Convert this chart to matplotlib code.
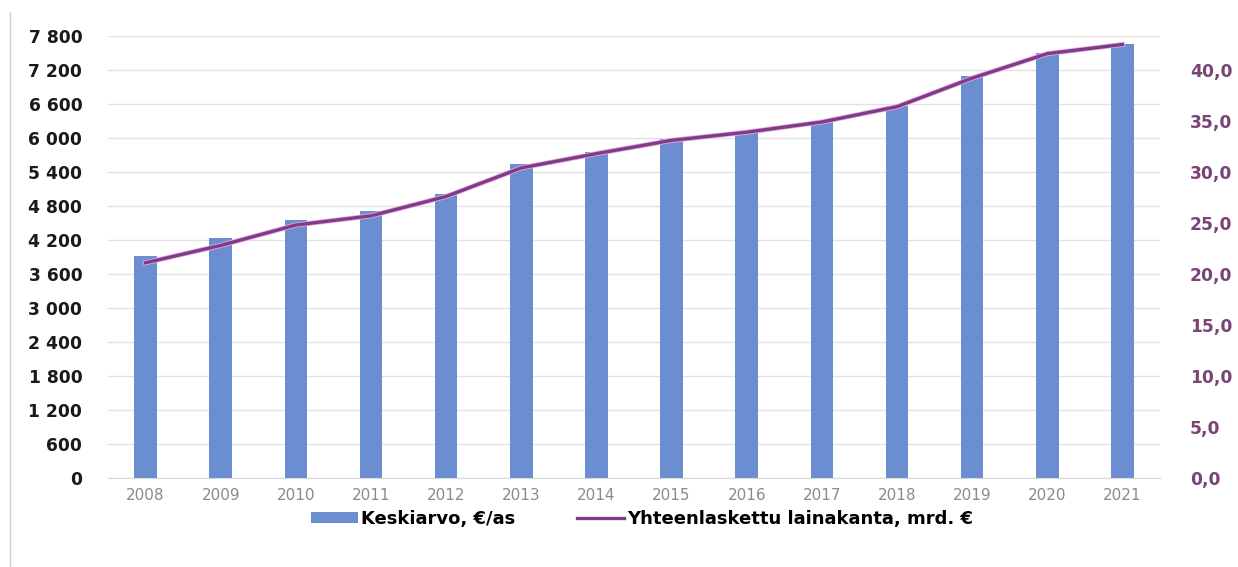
import matplotlib
matplotlib.use("Agg")
import matplotlib.pyplot as plt
import matplotlib.patheffects as pe
from matplotlib.lines import Line2D
from matplotlib.patches import Patch
import numpy as np

plt.rcParams["font.family"] = ["DejaVu Sans"]

# data
years = ["2008", "2009", "2010", "2011", "2012", "2013", "2014",
         "2015", "2016", "2017", "2018", "2019", "2020", "2021"]
keskiarvo = [3910, 4240, 4560, 4710, 5020, 5540, 5760,
             5980, 6130, 6300, 6570, 7100, 7500, 7660]
lainakanta = [21.1, 22.8, 24.8, 25.7, 27.6, 30.4, 31.8,
              33.1, 33.9, 34.9, 36.4, 39.2, 41.6, 42.5]

left_ticks = list(range(0, 7801, 600))
right_ticks = list(range(0, 41, 5))

BAR_COLOR = "#6A8ECF"
LINE_COLOR = "#7E3C86"
RIGHT_TICK_COLOR = "#7A4476"


def fmt_thousands(v):
    return f"{v:,}".replace(",", " ")


fig = plt.figure(figsize=(12.38, 5.67), dpi=100)
ax = fig.add_axes([108 / 1238, 1 - 478 / 567, (1160 - 108) / 1238, (478 - 36) / 567])
ax2 = ax.twinx()

x = np.arange(len(years))
ax.bar(x, keskiarvo, width=0.3, color=BAR_COLOR, zorder=2)
ax.set_xlim(-0.5, len(years) - 0.5)
ax.set_ylim(0, 7800)
ax.set_yticks(left_ticks)
ax.set_yticklabels([fmt_thousands(v) for v in left_ticks],
                   fontsize=12.3, fontweight="bold", color="#1a1a1a")
ax.set_xticks(x)
ax.set_xticklabels(years, fontsize=11, color="#8a8a8a")
ax.tick_params(axis="y", length=0, pad=18.5)
ax.tick_params(axis="x", length=0, pad=7)
ax.grid(axis="y", color="#e2e2e2", linewidth=1.0, zorder=0)
ax.set_axisbelow(True)
for s in ["top", "left", "right", "bottom"]:
    ax.spines[s].set_visible(False)
ax.spines["bottom"].set_visible(True)
ax.spines["bottom"].set_color("#d9d9d9")

ax2.plot(x, lainakanta, color=LINE_COLOR, linewidth=2.4, zorder=3,
         path_effects=[pe.Stroke(linewidth=3.6, foreground="#e9a9e6"), pe.Normal()])
ax2.set_ylim(0, 43.33)
ax2.set_yticks(right_ticks)
ax2.set_yticklabels([f"{v:.1f}".replace(".", ",") for v in right_ticks],
                    fontsize=12.3, fontweight="bold", color=RIGHT_TICK_COLOR)
ax2.tick_params(axis="y", length=0, pad=21.5)
for s in ["top", "left", "right", "bottom"]:
    ax2.spines[s].set_visible(False)

# legend below the plot
handles = [
    Patch(facecolor=BAR_COLOR, label="Keskiarvo, €/as"),
    Line2D([0], [0], color=LINE_COLOR, linewidth=2.4, label="Yhteenlaskettu lainakanta, mrd. €"),
]
fig.legend(handles=handles, loc="center", bbox_to_anchor=(642 / 1238, 1 - 519 / 567),
           ncol=2, frameon=False, handlelength=2.6, handleheight=0.62,
           columnspacing=3.4, handletextpad=0.2,
           prop={"size": 13, "weight": "bold"})

# thin frame line at the left edge
fig.add_artist(Line2D([10 / 1238, 10 / 1238], [0, 1 - 12 / 567],
                      transform=fig.transFigure, color="#d0d0d0", linewidth=1))

fig.savefig("out.png", dpi=100)
